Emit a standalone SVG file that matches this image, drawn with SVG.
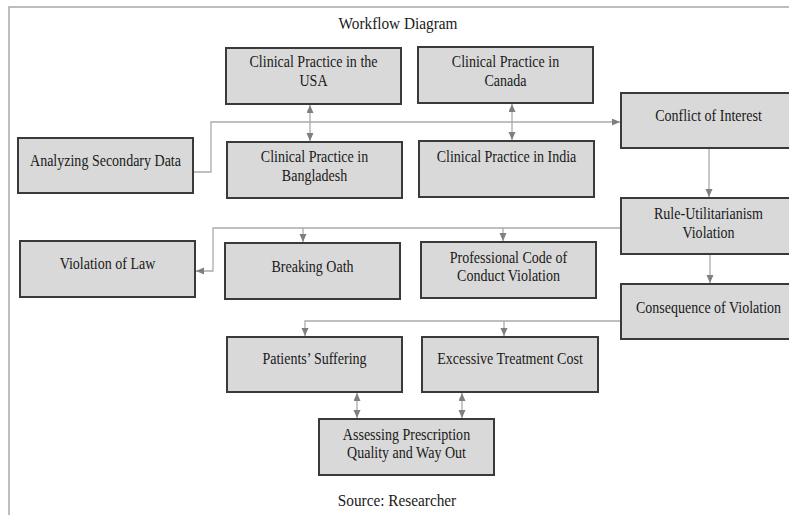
<svg xmlns="http://www.w3.org/2000/svg" width="789" height="515" viewBox="0 0 789 515">
  <style>
    .box { fill: #d9d9d9; stroke: #3a3a3a; stroke-width: 2; }
    .lbl { font-family: "Liberation Serif", "Times New Roman", serif; font-size: 16.5px; fill: #1a1a1a; text-anchor: middle; }
    .cap { font-family: "Liberation Serif", "Times New Roman", serif; font-size: 17px; fill: #1a1a1a; text-anchor: middle; }
    .wire { fill: none; stroke: #ababab; stroke-width: 1.3; }
    .frame { fill: none; stroke: #a8a8a8; stroke-width: 1.5; }
  </style>
  <defs>
    <marker id="head" markerUnits="userSpaceOnUse" markerWidth="9" markerHeight="8" refX="8" refY="3.5" orient="auto-start-reverse">
      <path d="M0,0 L8,3.5 L0,7 z" fill="#7f7f7f"/>
    </marker>
  </defs>

  <rect width="789" height="515" fill="#ffffff"/>
  <!-- page frame -->
  <path class="frame" d="M9,515 V7 H789"/>

  <!-- labels use a narrowed serif face: translate to the centre, then squeeze horizontally -->
  <text class="cap" transform="translate(398 0) scale(0.9 1)" x="0" y="29">Workflow Diagram</text>

  <!-- connectors -->
  <g id="connectors">
    <path class="wire" d="M193,172 H211 V122 H620" marker-end="url(#head)"/>
    <path class="wire" d="M310,105 V141" marker-start="url(#head)" marker-end="url(#head)"/>
    <path class="wire" d="M512,104 V140" marker-start="url(#head)" marker-end="url(#head)"/>
    <path class="wire" d="M709,148 V197" marker-end="url(#head)"/>
    <path class="wire" d="M621,228 H213 V271 H196" marker-end="url(#head)"/>
    <path class="wire" d="M303,228 V242" marker-end="url(#head)"/>
    <path class="wire" d="M503,228 V241" marker-end="url(#head)"/>
    <path class="wire" d="M710,254 V283" marker-end="url(#head)"/>
    <path class="wire" d="M621,321 H305 V336" marker-end="url(#head)"/>
    <path class="wire" d="M504,321 V336" marker-end="url(#head)"/>
    <path class="wire" d="M357,393 V418" marker-start="url(#head)" marker-end="url(#head)"/>
    <path class="wire" d="M462,393 V418" marker-start="url(#head)" marker-end="url(#head)"/>
  </g>

  <!-- nodes -->
  <g id="analyzing">
    <rect class="box" x="18" y="138" width="175" height="55"/>
    <text class="lbl" transform="translate(105.5 0) scale(0.85 1)" x="0" y="166">Analyzing Secondary Data</text>
  </g>
  <g id="usa">
    <rect class="box" x="226" y="48" width="175" height="56"/>
    <text class="lbl" transform="translate(313.5 0) scale(0.85 1)" x="0" y="67">Clinical Practice in the</text>
    <text class="lbl" transform="translate(313.5 0) scale(0.85 1)" x="0" y="86">USA</text>
  </g>
  <g id="bangladesh">
    <rect class="box" x="227" y="142" width="175" height="56"/>
    <text class="lbl" transform="translate(314.5 0) scale(0.85 1)" x="0" y="162">Clinical Practice in</text>
    <text class="lbl" transform="translate(314.5 0) scale(0.85 1)" x="0" y="181">Bangladesh</text>
  </g>
  <g id="canada">
    <rect class="box" x="418" y="47" width="175" height="56"/>
    <text class="lbl" transform="translate(505.5 0) scale(0.85 1)" x="0" y="67">Clinical Practice in</text>
    <text class="lbl" transform="translate(505.5 0) scale(0.85 1)" x="0" y="86">Canada</text>
  </g>
  <g id="india">
    <rect class="box" x="419" y="141" width="175" height="56"/>
    <text class="lbl" transform="translate(506.5 0) scale(0.85 1)" x="0" y="162">Clinical Practice in India</text>
  </g>
  <g id="conflict">
    <rect class="box" x="621" y="93" width="175" height="55"/>
    <text class="lbl" transform="translate(708.5 0) scale(0.85 1)" x="0" y="121">Conflict of Interest</text>
  </g>
  <g id="rule">
    <rect class="box" x="621" y="198" width="175" height="56"/>
    <text class="lbl" transform="translate(708.5 0) scale(0.85 1)" x="0" y="219">Rule-Utilitarianism</text>
    <text class="lbl" transform="translate(708.5 0) scale(0.85 1)" x="0" y="238">Violation</text>
  </g>
  <g id="consequence">
    <rect class="box" x="621" y="284" width="175" height="55"/>
    <text class="lbl" transform="translate(708.5 0) scale(0.85 1)" x="0" y="313">Consequence of Violation</text>
  </g>
  <g id="law">
    <rect class="box" x="20" y="241" width="175" height="56"/>
    <text class="lbl" transform="translate(107.5 0) scale(0.85 1)" x="0" y="269">Violation of Law</text>
  </g>
  <g id="oath">
    <rect class="box" x="225" y="243" width="175" height="56"/>
    <text class="lbl" transform="translate(312.5 0) scale(0.85 1)" x="0" y="272">Breaking Oath</text>
  </g>
  <g id="code">
    <rect class="box" x="421" y="242" width="175" height="56"/>
    <text class="lbl" transform="translate(508.5 0) scale(0.85 1)" x="0" y="263">Professional Code of</text>
    <text class="lbl" transform="translate(508.5 0) scale(0.85 1)" x="0" y="281">Conduct Violation</text>
  </g>
  <g id="patients">
    <rect class="box" x="227" y="337" width="175" height="55"/>
    <text class="lbl" transform="translate(314.5 0) scale(0.85 1)" x="0" y="364">Patients’ Suffering</text>
  </g>
  <g id="cost">
    <rect class="box" x="422" y="337" width="176" height="55"/>
    <text class="lbl" transform="translate(510 0) scale(0.85 1)" x="0" y="364">Excessive Treatment Cost</text>
  </g>
  <g id="assess">
    <rect class="box" x="319" y="419" width="175" height="56"/>
    <text class="lbl" transform="translate(406.5 0) scale(0.85 1)" x="0" y="440">Assessing Prescription</text>
    <text class="lbl" transform="translate(406.5 0) scale(0.85 1)" x="0" y="458">Quality and Way Out</text>
  </g>

  <text class="cap" transform="translate(397 0) scale(0.9 1)" x="0" y="506">Source: Researcher</text>
</svg>
